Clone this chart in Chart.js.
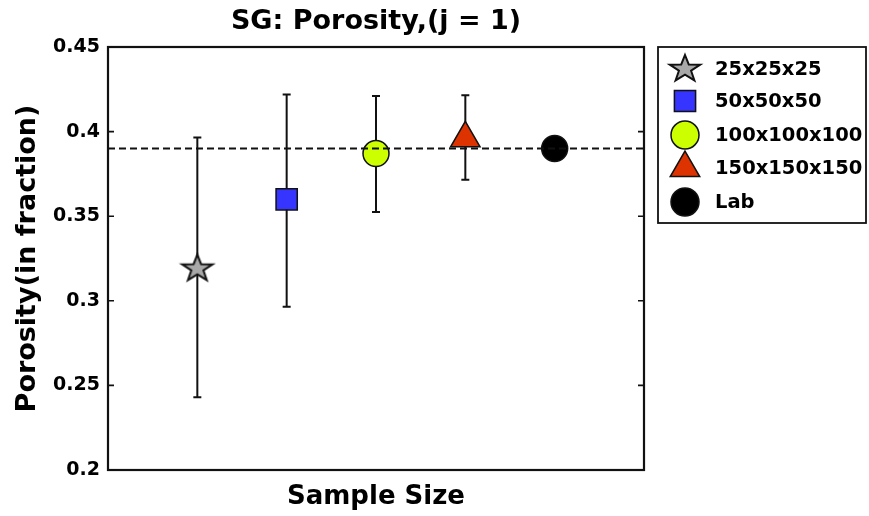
<!DOCTYPE html>
<html>
<head>
<meta charset="utf-8">
<script src="https://cdn.jsdelivr.net/npm/chart.js@4/dist/chart.umd.min.js"></script>
<style>
  html, body { margin: 0; padding: 0; background: #fff; }
  #wrap { width: 869px; height: 516px; }
</style>
</head>
<body>
<div id="wrap"><canvas id="chart" width="869" height="516"></canvas></div>
<script>
// data
const categories = ['25x25x25', '50x50x50', '100x100x100', '150x150x150', 'Lab']
const xPos = [1, 2, 3, 4, 5]
const porosity = [0.319, 0.360, 0.387, 0.396, 0.390]
const errLower = [0.243, 0.2965, 0.3525, 0.3715, null]
const errUpper = [0.3965, 0.422, 0.421, 0.4215, null]
const labLine = 0.39
const yTicks = [0.2, 0.25, 0.3, 0.35, 0.4, 0.45]

const FONT = 'DejaVu Sans'

// five-point star marker (a bit wider than tall, like the picture)
function makeStar(rx, ry) {
  const c = document.createElement('canvas')
  c.width = Math.ceil(rx * 2 + 6)
  c.height = Math.ceil(ry * 2 + 6)
  const g = c.getContext('2d')
  const cx = c.width / 2, cy = c.height / 2
  g.beginPath()
  for (let i = 0; i < 10; i++) {
    const k = i % 2 === 0 ? 1 : 0.4
    const a = -Math.PI / 2 + i * Math.PI / 5
    g.lineTo(cx + rx * k * Math.cos(a), cy + ry * k * Math.sin(a))
  }
  g.closePath()
  g.fillStyle = '#a8a8a8'
  g.fill()
  g.lineWidth = 2
  g.strokeStyle = '#111'
  g.stroke()
  return c
}
const star = makeStar(16, 14)

const markers = [
  { style: star, radius: 15, color: '#a8a8a8' },
  { style: 'rect', radius: 15, color: '#3535ff' },
  { style: 'circle', radius: 13, color: '#ccff00' },
  { style: 'triangle', radius: 17, color: '#dd3300' },
  { style: 'circle', radius: 13, color: '#000000' }
]

const pointSets = categories.map((name, i) => ({
  label: name,
  data: [{ x: xPos[i], y: porosity[i] }],
  pointStyle: markers[i].style,
  pointRadius: markers[i].radius,
  pointHoverRadius: markers[i].radius,
  backgroundColor: markers[i].color,
  borderColor: '#111',
  pointBorderWidth: 1.5,
  showLine: false,
  order: 1
}))

const errorBars = {
  id: 'errorBars',
  beforeDatasetsDraw(chart) {
    const { ctx, scales: { x, y } } = chart
    ctx.save()
    ctx.strokeStyle = '#111'
    ctx.lineWidth = 2
    xPos.forEach((xv, i) => {
      if (errLower[i] == null) return
      const px = x.getPixelForValue(xv)
      const lo = y.getPixelForValue(errLower[i])
      const hi = y.getPixelForValue(errUpper[i])
      ctx.beginPath()
      ctx.moveTo(px, lo); ctx.lineTo(px, hi)
      ctx.moveTo(px - 4, lo); ctx.lineTo(px + 4, lo)
      ctx.moveTo(px - 4, hi); ctx.lineTo(px + 4, hi)
      ctx.stroke()
    })
    ctx.restore()
  }
}

const frame = {
  id: 'frame',
  afterDatasetsDraw(chart) {
    const { ctx, chartArea: a, scales: { y } } = chart
    ctx.save()
    ctx.strokeStyle = '#111'
    ctx.lineWidth = 2.2
    ctx.strokeRect(a.left, a.top, a.right - a.left, a.bottom - a.top)
    ctx.lineWidth = 1.6
    ctx.beginPath()
    yTicks.forEach(v => {
      const py = y.getPixelForValue(v)
      ctx.moveTo(a.left, py); ctx.lineTo(a.left + 6, py)
      ctx.moveTo(a.right, py); ctx.lineTo(a.right - 6, py)
    })
    ctx.stroke()
    ctx.restore()
  }
}

const boxLegend = {
  id: 'boxLegend',
  afterDraw(chart) {
    const ctx = chart.ctx
    const left = 658, top = 47, w = 208, h = 176
    const rows = [69, 101, 135, 168, 202]
    ctx.save()
    ctx.strokeStyle = '#111'
    ctx.lineWidth = 1.8
    ctx.strokeRect(left, top, w, h)
    ctx.font = 'bold 19.5px "' + FONT + '"'
    ctx.textBaseline = 'middle'
    categories.forEach((name, i) => {
      ctx.fillStyle = markers[i].color
      ctx.strokeStyle = '#111'
      ctx.lineWidth = 1.5
      Chart.helpers.drawPoint(ctx, {
        pointStyle: markers[i].style,
        radius: markers[i].style === 'circle' ? 14 : markers[i].radius,
        rotation: 0,
        borderWidth: 1.5
      }, 685, rows[i])
      ctx.fillStyle = '#000'
      ctx.fillText(name, 715, rows[i] + 1)
    })
    ctx.restore()
  }
}

new Chart(document.getElementById('chart'), {
  type: 'scatter',
  data: {
    datasets: [
      {
        label: 'lab line',
        data: [{ x: 0, y: labLine }, { x: 6, y: labLine }],
        showLine: true,
        borderColor: '#111',
        borderWidth: 2,
        borderDash: [7, 4],
        pointRadius: 0,
        order: 0
      },
      ...pointSets
    ]
  },
  options: {
    responsive: false,
    animation: false,
    layout: { padding: { left: 0, right: 225, top: 0, bottom: 0 } },
    plugins: {
      legend: { display: false },
      tooltip: { enabled: false },
      title: {
        display: true,
        text: 'SG: Porosity,(j = 1)',
        fullSize: false,
        color: '#000',
        font: { family: FONT, size: 27, weight: 'bold' },
        padding: { top: 6, bottom: 8.6 }
      }
    },
    scales: {
      x: {
        type: 'linear',
        min: 0,
        max: 6,
        grid: { display: false, drawTicks: false },
        border: { display: false },
        ticks: { display: false },
        title: {
          display: true,
          text: 'Sample Size',
          color: '#000',
          font: { family: FONT, size: 26, weight: 'bold' },
          padding: { top: 0, bottom: 3 }
        },
        afterFit(scale) { scale.height = 46 }
      },
      y: {
        min: 0.2,
        max: 0.45,
        grid: { display: false, drawTicks: false },
        border: { display: false },
        afterBuildTicks(scale) { scale.ticks = yTicks.map(v => ({ value: v })) },
        ticks: {
          color: '#000',
          padding: 8,
          font: { family: FONT, size: 19, weight: 'bold' },
          callback: value => String(value)
        },
        title: {
          display: true,
          text: 'Porosity(in fraction)',
          color: '#000',
          font: { family: FONT, size: 27, weight: 'bold' },
          padding: { top: 12, bottom: 0 }
        },
        afterFit(scale) { scale.width = 108 }
      }
    }
  },
  plugins: [errorBars, frame, boxLegend]
})
</script>
</body>
</html>
